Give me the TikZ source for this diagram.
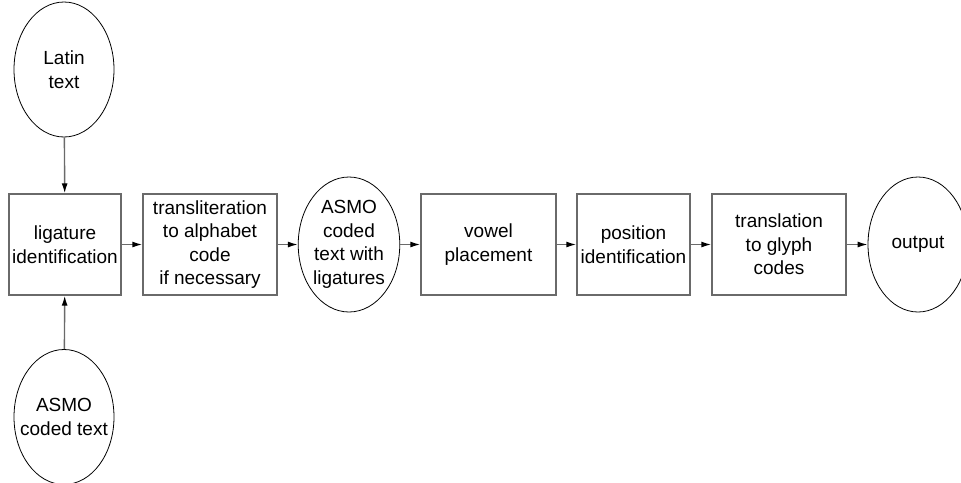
\documentclass[tikz,border=0pt]{standalone}
\usepackage{fontspec}
\setmainfont{Liberation Sans}
\usepackage{tikz}
\usetikzlibrary{arrows.meta,shapes.geometric}
\definecolor{boxgray}{HTML}{6A6A6A}
\tikzstyle{every node}=[font=\fontsize{19}{23.5}\selectfont,align=center]
\tikzstyle{step box}=[draw=boxgray,line width=1.4pt,minimum height=101pt,inner sep=0pt]
\tikzstyle{data}=[draw=black,ellipse,line width=0.8pt,minimum width=100pt,minimum height=135pt,inner sep=0pt]
\tikzstyle{every edge}=[draw=boxgray,line width=1.4pt,>={Latex[length=10pt,width=6pt,black]}]

\begin{document}
\begin{tikzpicture}[x=1pt,y=-1pt]
  \useasboundingbox (0,0) rectangle (961,482);
  \node[data]                      (latin)   at (64,69.5)   {Latin\\text};
  \node[step box,minimum width=112pt] (lig)  at (65,244.5)  {ligature\\identification};
  \node[data]                      (asmo)    at (64,417)    {ASMO\\\makebox[0pt]{coded text}};
  \node[step box,minimum width=134pt] (trans) at (210,244.5) {transliteration\\to alphabet\\code\\if necessary};
  \node[data]                      (asmolig) at (349,244.5) {ASMO\\coded\\text with\\ligatures};
  \node[step box,minimum width=135pt] (vowel) at (488.5,244.5) {vowel\\placement};
  \node[step box,minimum width=113pt] (pos)  at (633.5,244.5) {position\\identification};
  \node[step box,minimum width=134pt] (glyph) at (779,244.5) {translation\\to glyph\\codes};
  \node[data]                      (out)     at (918,244.5) {output};

  \path[->] (latin) edge (lig)
	(asmo) edge (lig)
	(lig) edge (trans)
	(trans) edge (asmolig)
	(asmolig) edge (vowel)
	(vowel) edge (pos)
	(pos) edge (glyph)
	(glyph) edge (out);
\end{tikzpicture}
\end{document}
